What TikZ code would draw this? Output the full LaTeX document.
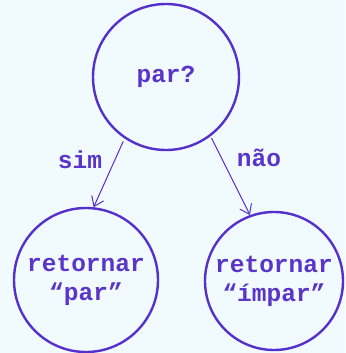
\documentclass[tikz,border=0pt]{standalone}
\usepackage{fontspec}
\setmonofont{Liberation Mono}
\usetikzlibrary{arrows.meta}
\definecolor{bgc}{HTML}{F0FAFF}
\definecolor{ink}{HTML}{5530CC}
\definecolor{txt}{HTML}{5A35C8}
\tikzset{
  bubble/.style={circle, draw=ink, line width=2.4pt, inner sep=0pt, font=\ttfamily\bfseries\fontsize{24.5}{29}\selectfont, text=txt, align=center},
  lbl/.style={font=\ttfamily\bfseries\fontsize{24.5}{29}\selectfont, text=txt, inner sep=0pt},
  link/.style={draw=ink, line width=1pt, -{Straight Barb[length=9pt,width=13pt,line width=1pt]}}
}
\begin{document}
\begin{tikzpicture}[x=1pt,y=-1pt]
\fill[bgc] (0,0) rectangle (345,353);
\useasboundingbox (0,0) rectangle (345,353);
\node[bubble, minimum size=146pt] (top) at (166,77) {par?};
\node[bubble, minimum size=144pt] (bl) at (86,280) {retornar\\“par”};
\node[bubble, minimum size=138pt] (br) at (274,281) {retornar\\“ímpar”};
\draw[link, shorten <=3pt] (top.236) -- (bl.84);
\draw[link, shorten <=2pt] (top.307) -- (br.110);
\node[lbl] (sim) at (80,160) {sim};
\node[lbl] (nao) at (259,158) {não};
\end{tikzpicture}
\end{document}
